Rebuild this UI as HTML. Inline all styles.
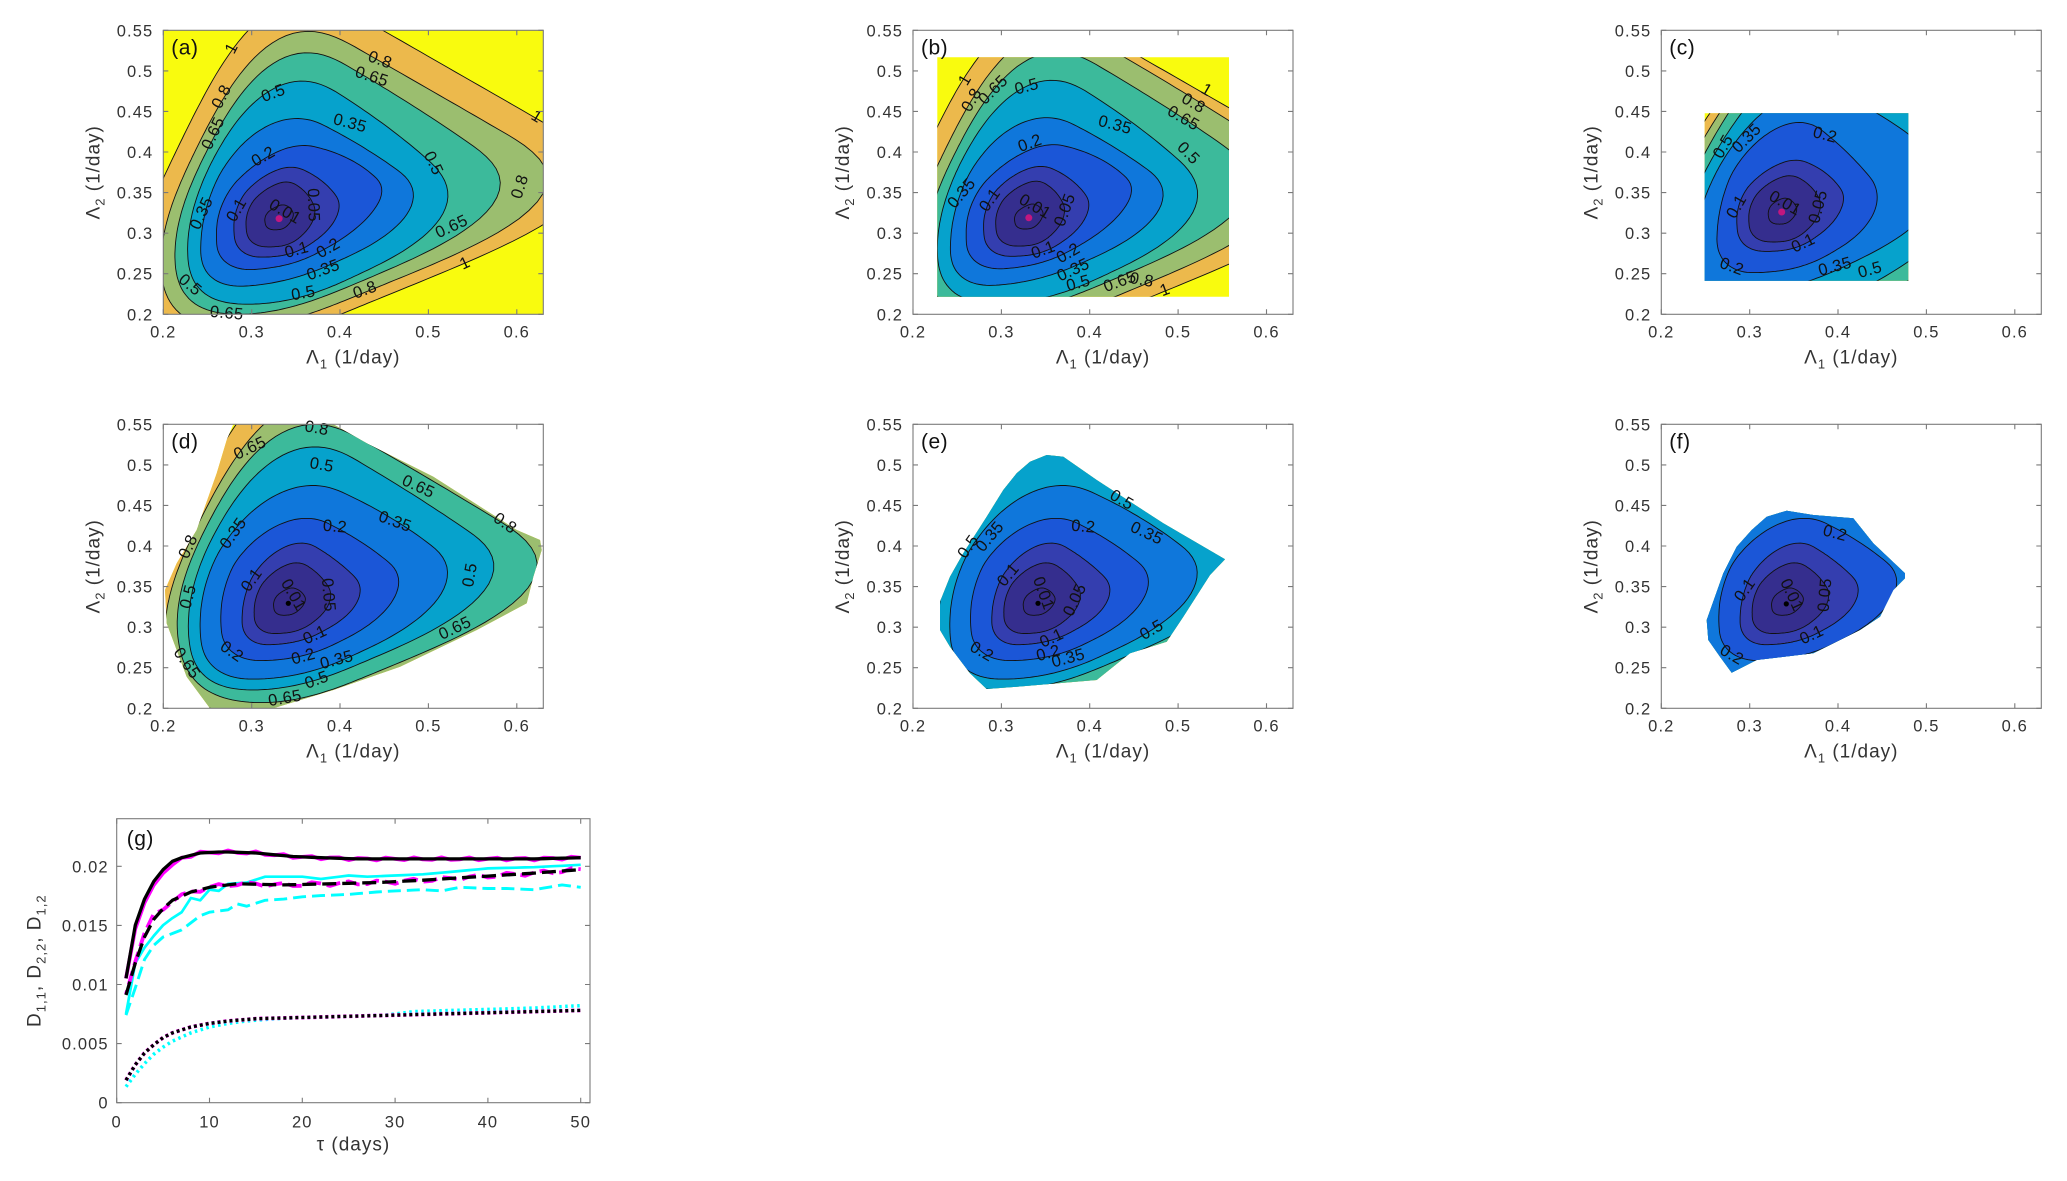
<!DOCTYPE html>
<html><head><meta charset="utf-8">
<style>
html,body{margin:0;padding:0;background:#fff;}
svg{display:block}
text{font-family:"Liberation Sans",Arial,sans-serif;}
.tk{font-size:16.5px;fill:#333;letter-spacing:1.1px;text-anchor:end}
.tx{font-size:16.5px;fill:#333;letter-spacing:1.1px;text-anchor:middle}
.al{font-size:19px;fill:#333;letter-spacing:1px;text-anchor:middle}
.pl{font-size:21px;fill:#111;letter-spacing:0.5px}
.cl{font-size:16.5px;fill:#111;text-anchor:middle;dominant-baseline:central;letter-spacing:0.4px}
</style></head><body>
<svg width="2067" height="1181" viewBox="0 0 2067 1181" xmlns="http://www.w3.org/2000/svg">
<defs>
<clipPath id="clA"><rect x="0" y="0" width="380" height="284"/></clipPath>
<clipPath id="clB"><rect x="24.3" y="27" width="291.7" height="239.4"/></clipPath>
<clipPath id="clC"><rect x="43.4" y="83" width="203.6" height="167.4"/></clipPath>
<clipPath id="clD"><polygon points="70,0 170,0 203.4,19 270,52.4 353.4,105.7 376.7,115.7 378.4,125.7 370,152.4 363.4,179 313.4,205.7 236.7,242.4 170,265.7 110,284 46.7,284 23.4,252.4 3.4,199 1.7,165.7 13.4,139 33.4,105.7 53.4,49 63.4,15.7"/></clipPath>
<clipPath id="clE"><polygon points="117,37.4 133.7,30.7 150.3,32.4 183.7,55.7 250.3,99 312,135 297,150.7 270.3,192.4 253.7,217.4 217,229 183.7,255.7 103.7,262.4 73.7,264.7 57,249 37,222.4 27,205.7 27,177.4 37,152.4 50.3,129 73.7,92.4 90.3,65.7 103.7,49"/></clipPath>
<clipPath id="clF"><polygon points="90.4,105.7 105.4,92.4 125.4,86.4 152,90.7 192,94 212,119 243.7,149 243.7,154 232,165.7 218.7,192.4 198.7,205.7 152,229 95.4,235.7 70.4,248.4 58.7,232.4 47,215.7 45.4,195.7 62,149 75.4,122.4"/></clipPath>
<clipPath id="clG"><rect x="0" y="0" width="473.3" height="284"/></clipPath>
</defs>

<!-- Panel a -->
<g transform="translate(163.3,30.3)">
<g id="ca"></g>
<circle cx="115.8" cy="188.3" r="3.5" fill="#c2177f"/>
<text class="cl" transform="translate(68.4,18) rotate(-63)">1</text>
<text class="cl" transform="translate(58.4,66.4) rotate(-63)">0.8</text>
<text class="cl" transform="translate(50,103) rotate(-65)">0.65</text>
<text class="cl" transform="translate(216.7,29.7) rotate(20)">0.8</text>
<text class="cl" transform="translate(208.4,46.4) rotate(18)">0.65</text>
<text class="cl" transform="translate(110,63) rotate(-20)">0.5</text>
<text class="cl" transform="translate(373.4,86.4) rotate(31)">1</text>
<text class="cl" transform="translate(186.7,93) rotate(15)">0.35</text>
<text class="cl" transform="translate(270,133) rotate(65)">0.5</text>
<text class="cl" transform="translate(356.7,156.4) rotate(-72)">0.8</text>
<text class="cl" transform="translate(100,126.4) rotate(-30)">0.2</text>
<text class="cl" transform="translate(38.4,183) rotate(-65)">0.35</text>
<text class="cl" transform="translate(73.4,179.7) rotate(-60)">0.1</text>
<text class="cl" transform="translate(150,174.7) rotate(88)">0.05</text>
<text class="cl" transform="translate(121.7,181.4) rotate(30)">0.01</text>
<text class="cl" transform="translate(288.4,196.4) rotate(-25)">0.65</text>
<text class="cl" transform="translate(301.7,233) rotate(-25)">1</text>
<text class="cl" transform="translate(133.4,219.7) rotate(-15)">0.1</text>
<text class="cl" transform="translate(165,218) rotate(-30)">0.2</text>
<text class="cl" transform="translate(160,239.7) rotate(-20)">0.35</text>
<text class="cl" transform="translate(26.7,254.7) rotate(40)">0.5</text>
<text class="cl" transform="translate(140,263) rotate(-10)">0.5</text>
<text class="cl" transform="translate(201.7,259.7) rotate(-20)">0.8</text>
<text class="cl" transform="translate(63.4,283) rotate(5)">0.65</text>
<text class="pl" x="8" y="24">(a)</text>
<g id="fa"></g>
<g class="tk"><text x="-10" y="6">0.55</text><text x="-10" y="46.6">0.5</text><text x="-10" y="87.1">0.45</text><text x="-10" y="127.7">0.4</text><text x="-10" y="168.3">0.35</text><text x="-10" y="208.9">0.3</text><text x="-10" y="249.4">0.25</text><text x="-10" y="290">0.2</text></g>
<g class="tx"><text x="0" y="307">0.2</text><text x="88.4" y="307">0.3</text><text x="176.7" y="307">0.4</text><text x="265.1" y="307">0.5</text><text x="353.5" y="307">0.6</text></g>
<text class="al" x="190" y="333">Λ<tspan dy="5" font-size="13">1</tspan><tspan dy="-5"> (1/day)</tspan></text>
<text class="al" transform="translate(-64,142) rotate(-90)">Λ<tspan dy="5" font-size="13">2</tspan><tspan dy="-5"> (1/day)</tspan></text>
</g>

<!-- Panel b -->
<g transform="translate(913,30.3)">
<g id="cb"></g>
<circle cx="115.8" cy="187.5" r="3.5" fill="#c2177f"/>
<text class="cl" transform="translate(52,49.7) rotate(-60)">1</text>
<text class="cl" transform="translate(58.7,69.7) rotate(-60)">0.8</text>
<text class="cl" transform="translate(80.3,59.7) rotate(-45)">0.65</text>
<text class="cl" transform="translate(113.7,56.4) rotate(-15)">0.5</text>
<text class="cl" transform="translate(293.7,59.7) rotate(30)">1</text>
<text class="cl" transform="translate(280.3,73) rotate(30)">0.8</text>
<text class="cl" transform="translate(270.3,88) rotate(30)">0.65</text>
<text class="cl" transform="translate(202,94.7) rotate(15)">0.35</text>
<text class="cl" transform="translate(275.3,123) rotate(45)">0.5</text>
<text class="cl" transform="translate(117,113) rotate(-20)">0.2</text>
<text class="cl" transform="translate(48.7,163) rotate(-50)">0.35</text>
<text class="cl" transform="translate(77,169.7) rotate(-55)">0.1</text>
<text class="cl" transform="translate(122,176.4) rotate(30)">0.01</text>
<text class="cl" transform="translate(152,179.7) rotate(-70)">0.05</text>
<text class="cl" transform="translate(130.3,219.7) rotate(-20)">0.1</text>
<text class="cl" transform="translate(155.3,223) rotate(-30)">0.2</text>
<text class="cl" transform="translate(160.3,239.7) rotate(-25)">0.35</text>
<text class="cl" transform="translate(165.3,253) rotate(-15)">0.5</text>
<text class="cl" transform="translate(207,251.4) rotate(-20)">0.65</text>
<text class="cl" transform="translate(228.7,249.7) rotate(10)">0.8</text>
<text class="cl" transform="translate(252,259.7) rotate(-20)">1</text>
<text class="pl" x="8" y="24">(b)</text>
<g id="fb"></g>
<g class="tk"><text x="-10" y="6">0.55</text><text x="-10" y="46.6">0.5</text><text x="-10" y="87.1">0.45</text><text x="-10" y="127.7">0.4</text><text x="-10" y="168.3">0.35</text><text x="-10" y="208.9">0.3</text><text x="-10" y="249.4">0.25</text><text x="-10" y="290">0.2</text></g>
<g class="tx"><text x="0" y="307">0.2</text><text x="88.4" y="307">0.3</text><text x="176.7" y="307">0.4</text><text x="265.1" y="307">0.5</text><text x="353.5" y="307">0.6</text></g>
<text class="al" x="190" y="333">Λ<tspan dy="5" font-size="13">1</tspan><tspan dy="-5"> (1/day)</tspan></text>
<text class="al" transform="translate(-64,142) rotate(-90)">Λ<tspan dy="5" font-size="13">2</tspan><tspan dy="-5"> (1/day)</tspan></text>
</g>

<!-- Panel c -->
<g transform="translate(1661.3,30.3)">
<g id="cc"></g>
<circle cx="120.4" cy="181.7" r="3.5" fill="#c2177f"/>
<text class="cl" transform="translate(62,116.4) rotate(-60)">0.5</text>
<text class="cl" transform="translate(85.4,108) rotate(-45)">0.35</text>
<text class="cl" transform="translate(163.7,104.7) rotate(15)">0.2</text>
<text class="cl" transform="translate(75.4,176.4) rotate(-60)">0.1</text>
<text class="cl" transform="translate(123.7,173) rotate(30)">0.01</text>
<text class="cl" transform="translate(157,176.4) rotate(-75)">0.05</text>
<text class="cl" transform="translate(142,213) rotate(-25)">0.1</text>
<text class="cl" transform="translate(70.4,236.4) rotate(20)">0.2</text>
<text class="cl" transform="translate(173.7,236.4) rotate(-15)">0.35</text>
<text class="cl" transform="translate(208.7,239.7) rotate(-15)">0.5</text>
<text class="pl" x="8" y="24">(c)</text>
<g id="fc"></g>
<g class="tk"><text x="-10" y="6">0.55</text><text x="-10" y="46.6">0.5</text><text x="-10" y="87.1">0.45</text><text x="-10" y="127.7">0.4</text><text x="-10" y="168.3">0.35</text><text x="-10" y="208.9">0.3</text><text x="-10" y="249.4">0.25</text><text x="-10" y="290">0.2</text></g>
<g class="tx"><text x="0" y="307">0.2</text><text x="88.4" y="307">0.3</text><text x="176.7" y="307">0.4</text><text x="265.1" y="307">0.5</text><text x="353.5" y="307">0.6</text></g>
<text class="al" x="190" y="333">Λ<tspan dy="5" font-size="13">1</tspan><tspan dy="-5"> (1/day)</tspan></text>
<text class="al" transform="translate(-64,142) rotate(-90)">Λ<tspan dy="5" font-size="13">2</tspan><tspan dy="-5"> (1/day)</tspan></text>
</g>

<!-- Panel d -->
<g transform="translate(163.3,424.3)">
<g id="cd"></g>
<circle cx="125" cy="179" r="2.6" fill="#000"/>
<text class="cl" transform="translate(153.4,4) rotate(10)">0.8</text>
<text class="cl" transform="translate(86.7,24) rotate(-25)">0.65</text>
<text class="cl" transform="translate(158.4,40.7) rotate(10)">0.5</text>
<text class="cl" transform="translate(255,62.4) rotate(25)">0.65</text>
<text class="cl" transform="translate(341.7,99) rotate(35)">0.8</text>
<text class="cl" transform="translate(70,109) rotate(-55)">0.35</text>
<text class="cl" transform="translate(171.7,102.4) rotate(5)">0.2</text>
<text class="cl" transform="translate(231.7,97.4) rotate(20)">0.35</text>
<text class="cl" transform="translate(25,122.4) rotate(-65)">0.8</text>
<text class="cl" transform="translate(306.7,150.7) rotate(-80)">0.5</text>
<text class="cl" transform="translate(88.4,155.7) rotate(-55)">0.1</text>
<text class="cl" transform="translate(165,170.7) rotate(85)">0.05</text>
<text class="cl" transform="translate(130,170.7) rotate(60)">0.01</text>
<text class="cl" transform="translate(25,172.4) rotate(-75)">0.5</text>
<text class="cl" transform="translate(291.7,204) rotate(-25)">0.65</text>
<text class="cl" transform="translate(151.7,210.7) rotate(-25)">0.1</text>
<text class="cl" transform="translate(68.4,227.4) rotate(35)">0.2</text>
<text class="cl" transform="translate(140,232.4) rotate(-15)">0.2</text>
<text class="cl" transform="translate(173.4,235.7) rotate(-15)">0.35</text>
<text class="cl" transform="translate(23.4,239) rotate(55)">0.65</text>
<text class="cl" transform="translate(153.4,255.7) rotate(-20)">0.5</text>
<text class="cl" transform="translate(121.7,274) rotate(-10)">0.65</text>
<text class="pl" x="8" y="24">(d)</text>
<g id="fd"></g>
<g class="tk"><text x="-10" y="6">0.55</text><text x="-10" y="46.6">0.5</text><text x="-10" y="87.1">0.45</text><text x="-10" y="127.7">0.4</text><text x="-10" y="168.3">0.35</text><text x="-10" y="208.9">0.3</text><text x="-10" y="249.4">0.25</text><text x="-10" y="290">0.2</text></g>
<g class="tx"><text x="0" y="307">0.2</text><text x="88.4" y="307">0.3</text><text x="176.7" y="307">0.4</text><text x="265.1" y="307">0.5</text><text x="353.5" y="307">0.6</text></g>
<text class="al" x="190" y="333">Λ<tspan dy="5" font-size="13">1</tspan><tspan dy="-5"> (1/day)</tspan></text>
<text class="al" transform="translate(-64,142) rotate(-90)">Λ<tspan dy="5" font-size="13">2</tspan><tspan dy="-5"> (1/day)</tspan></text>
</g>

<!-- Panel e -->
<g transform="translate(913,424.3)">
<g id="ce"></g>
<circle cx="125" cy="179" r="2.6" fill="#000"/>
<text class="cl" transform="translate(208.7,75.7) rotate(30)">0.5</text>
<text class="cl" transform="translate(233.7,109) rotate(25)">0.35</text>
<text class="cl" transform="translate(170.3,102.4) rotate(5)">0.2</text>
<text class="cl" transform="translate(55.3,122.4) rotate(-55)">0.5</text>
<text class="cl" transform="translate(77,112.4) rotate(-50)">0.35</text>
<text class="cl" transform="translate(95.3,150.7) rotate(-50)">0.1</text>
<text class="cl" transform="translate(130.3,169) rotate(70)">0.01</text>
<text class="cl" transform="translate(162,175.7) rotate(-65)">0.05</text>
<text class="cl" transform="translate(238.7,205.7) rotate(-30)">0.5</text>
<text class="cl" transform="translate(138.7,214) rotate(-25)">0.1</text>
<text class="cl" transform="translate(135.3,229) rotate(-15)">0.2</text>
<text class="cl" transform="translate(155.3,234) rotate(-15)">0.35</text>
<text class="cl" transform="translate(68.7,227.4) rotate(30)">0.2</text>
<text class="pl" x="8" y="24">(e)</text>
<g id="fe"></g>
<g class="tk"><text x="-10" y="6">0.55</text><text x="-10" y="46.6">0.5</text><text x="-10" y="87.1">0.45</text><text x="-10" y="127.7">0.4</text><text x="-10" y="168.3">0.35</text><text x="-10" y="208.9">0.3</text><text x="-10" y="249.4">0.25</text><text x="-10" y="290">0.2</text></g>
<g class="tx"><text x="0" y="307">0.2</text><text x="88.4" y="307">0.3</text><text x="176.7" y="307">0.4</text><text x="265.1" y="307">0.5</text><text x="353.5" y="307">0.6</text></g>
<text class="al" x="190" y="333">Λ<tspan dy="5" font-size="13">1</tspan><tspan dy="-5"> (1/day)</tspan></text>
<text class="al" transform="translate(-64,142) rotate(-90)">Λ<tspan dy="5" font-size="13">2</tspan><tspan dy="-5"> (1/day)</tspan></text>
</g>

<!-- Panel f -->
<g transform="translate(1661.3,424.3)">
<g id="cf"></g>
<circle cx="125" cy="179.6" r="2.6" fill="#000"/>
<text class="cl" transform="translate(173.7,109) rotate(15)">0.2</text>
<text class="cl" transform="translate(83.7,165.7) rotate(-55)">0.1</text>
<text class="cl" transform="translate(130.4,170.7) rotate(65)">0.01</text>
<text class="cl" transform="translate(163.7,170.7) rotate(-85)">0.05</text>
<text class="cl" transform="translate(150.4,210.7) rotate(-25)">0.1</text>
<text class="cl" transform="translate(70.4,230.7) rotate(30)">0.2</text>
<text class="pl" x="8" y="24">(f)</text>
<g id="ff"></g>
<g class="tk"><text x="-10" y="6">0.55</text><text x="-10" y="46.6">0.5</text><text x="-10" y="87.1">0.45</text><text x="-10" y="127.7">0.4</text><text x="-10" y="168.3">0.35</text><text x="-10" y="208.9">0.3</text><text x="-10" y="249.4">0.25</text><text x="-10" y="290">0.2</text></g>
<g class="tx"><text x="0" y="307">0.2</text><text x="88.4" y="307">0.3</text><text x="176.7" y="307">0.4</text><text x="265.1" y="307">0.5</text><text x="353.5" y="307">0.6</text></g>
<text class="al" x="190" y="333">Λ<tspan dy="5" font-size="13">1</tspan><tspan dy="-5"> (1/day)</tspan></text>
<text class="al" transform="translate(-64,142) rotate(-90)">Λ<tspan dy="5" font-size="13">2</tspan><tspan dy="-5"> (1/day)</tspan></text>
</g>

<!-- Panel g -->
<g transform="translate(116.7,818.7)">
<g id="cg" clip-path="url(#clG)"></g>
<text class="pl" x="10" y="27">(g)</text>
<g id="fg"></g>
<g class="tk"><text x="-8" y="290">0</text><text x="-8" y="230.9">0.005</text><text x="-8" y="171.8">0.01</text><text x="-8" y="112.7">0.015</text><text x="-8" y="53.6">0.02</text></g>
<g class="tx"><text x="0" y="309">0</text><text x="92.8" y="309">10</text><text x="185.6" y="309">20</text><text x="278.4" y="309">30</text><text x="371.2" y="309">40</text><text x="464" y="309">50</text></g>
<text class="al" x="236.7" y="332">τ (days)</text>
<text class="al" transform="translate(-76,142) rotate(-90)">D<tspan dy="5" font-size="13">1,1</tspan><tspan dy="-5">, D</tspan><tspan dy="5" font-size="13">2,2</tspan><tspan dy="-5">, D</tspan><tspan dy="5" font-size="13">1,2</tspan></text>
</g>
</svg>

<script>
(function(){
var DIR=[156,100,58,0,294,225].map(function(d){return d*Math.PI/180;});
var COL=['#352a87','#352e8e','#343eaf','#1b56d7','#0f77db','#06a2cc','#3cba9b','#9bbe6f','#ecb94c'];
var BG='#f9fb0e';
var PW=[2,2,2,2,2.2,2.5,2.8,3,3.3];
function rM(th,t,p){var s=0;for(var i=0;i<6;i++){var c=Math.cos(th-DIR[i]);if(c>0)s+=Math.pow(c/t[i],p);}return Math.pow(s,-1/p);}
function fit(r,p){var t=r.map(function(v){return v*1.15;});for(var it=0;it<100;it++){for(var j=0;j<6;j++){var m=rM(DIR[j],t,p);t[j]*=r[j]/m;if(t[j]>r[j]*6)t[j]=r[j]*6;}}return t;}
function path(cx,cy,t,p){var d='';for(var k=0;k<360;k+=2){var th=k*Math.PI/180;var r=rM(th,t,p);var x=(cx+r*Math.cos(th)-0.2)*883.7,y=284-(cy+r*Math.sin(th)-0.2)*811.4;d+=(k?'L':'M')+x.toFixed(1)+' '+y.toFixed(1);}return d+'Z';}
function contour(id,cx,cy,tab,clip){
  var g=document.getElementById(id);
  var s='<g clip-path="url(#'+clip+')"><rect x="-10" y="-10" width="400" height="304" fill="'+BG+'"/>';
  var P=[];for(var k=8;k>=0;k--){var t=fit(tab[k],PW[k]);P[k]=path(cx,cy,t,PW[k]);}
  for(k=8;k>=0;k--)s+='<path d="'+P[k]+'" fill="'+COL[k]+'"/>';
  for(k=8;k>=0;k--)s+='<path d="'+P[k]+'" fill="none" stroke="#111" stroke-width="0.9"/>';
  s+='</g>';g.innerHTML=s;
}
function frame(id,W,H,xs,ys){var g=document.getElementById(id);var c='#7a7a7a';var s='<rect x="0" y="0" width="'+W+'" height="'+H+'" fill="none" stroke="'+c+'" stroke-width="1.1"/>';
  xs.forEach(function(x){s+='<path d="M'+x+' '+H+'v-5M'+x+' 0v5" stroke="'+c+'" stroke-width="1.1"/>';});
  ys.forEach(function(y){s+='<path d="M0 '+y+'h5M'+W+' '+y+'h-5" stroke="'+c+'" stroke-width="1.1"/>';});
  g.innerHTML=s;}
var TA=[[.015,.015,.018,.015,.013,.017],[.036,.041,.045,.039,.033,.042],[.049,.057,.066,.064,.045,.058],[.066,.077,.100,.099,.057,.080],[.083,.112,.125,.141,.075,.105],[.097,.150,.165,.182,.100,.125],[.108,.200,.200,.227,.108,.142],[.120,.225,.225,.273,.122,.162],[.140,.243,.259,.320,.136,.220]];
var TB=JSON.parse(JSON.stringify(TA));TB[8][2]=.235;TB[8][4]=.145;TB[7][4]=.128;
var TC=[[.015,.016,.018,.016,.014,.017],[.036,.041,.046,.042,.035,.043],[.049,.057,.068,.065,.046,.058],[.070,.100,.107,.104,.070,.089],[.088,.125,.160,.165,.090,.130],[.100,.150,.210,.200,.125,.160],[.110,.170,.240,.240,.140,.180],[.120,.180,.270,.280,.150,.200],[.130,.190,.300,.320,.160,.220]];
var TD=[[.016,.017,.020,.018,.014,.018],[.037,.045,.050,.046,.035,.045],[.050,.066,.075,.077,.048,.062],[.075,.095,.108,.116,.067,.087],[.097,.130,.150,.165,.088,.115],[.110,.170,.190,.208,.100,.130],[.122,.195,.215,.254,.117,.142],[.132,.220,.245,.290,.130,.160],[.150,.250,.280,.330,.145,.190]];
contour('ca',0.331,0.318,TA,'clA');
contour('cb',0.331,0.319,TB,'clB');
contour('cc',0.3366,0.3256,TC,'clC');
contour('cd',0.3415,0.3294,TD,'clD');
contour('ce',0.3415,0.3294,TD,'clE');
contour('cf',0.3415,0.3294,TD,'clF');
var XS=[0,88.4,176.7,265.1,353.5],YS=[0,40.6,81.1,121.7,162.3,202.9,243.4,284];
['fa','fb','fc','fd','fe','ff'].forEach(function(id){frame(id,380,284,XS,YS);});
frame('fg',473.3,284,[0,92.8,185.6,278.4,371.2,464],[284,224.9,165.8,106.7,47.6]);

var SX=9.28,SY=11835;
function ser(p){var o=[];for(var t=1;t<=50;t++){var i=0;while(i<p.length-2&&p[i+1][0]<t)i++;var a=p[i],b=p[i+1];var f=(t-a[0])/(b[0]-a[0]);o.push([t,a[1]+(b[1]-a[1])*f]);}return o;}
function pl(arr,st,w,dash,off){return '<polyline fill="none" stroke="'+st+'" stroke-width="'+w+'" '+(dash?'stroke-dasharray="'+dash+'" stroke-dashoffset="'+(off||0)+'" ':'')+'stroke-linejoin="round" points="'+arr.map(function(q){return (q[0]*SX).toFixed(1)+','+(284-q[1]*SY).toFixed(1);}).join(' ')+'"/>';}
var bs=ser([[1,.0105],[2,.0150],[3,.0172],[4,.0187],[5,.0197],[6,.0204],[7,.0207],[9,.0211],[11.5,.0212],[15,.0211],[19,.0208],[22,.0207],[26,.0206],[33,.0206],[40,.0206],[45,.0206],[50,.0207]]);
var bd=ser([[1,.0091],[2,.0118],[3,.0140],[4,.0155],[5,.0164],[6,.0171],[8,.0178],[10,.0182],[13,.0185],[18,.0184],[23,.0185],[28,.0186],[33,.0188],[37,.0190],[41,.0192],[45,.0194],[50,.0197]]);
var cs=ser([[1,.0075],[2,.0118],[3,.0131],[4,.0141],[5,.0150],[6,.0156],[7,.0161],[8,.0173],[9,.0171],[10,.0180],[11,.0179],[12,.0185],[14,.0186],[16,.0191],[18,.0191],[20,.0191],[22,.0189],[25,.0192],[27,.0191],[30,.0192],[33,.0193],[36,.0195],[40,.0198],[45,.0199],[50,.0201]]);
var cd=ser([[1,.0074],[2,.0097],[3,.0121],[4,.0133],[5,.0140],[6,.0143],[7,.0146],[8,.0152],[9,.0158],[10,.0161],[12,.0163],[13,.0168],[14,.0166],[16,.0171],[18,.0172],[20,.0174],[22,.0175],[25,.0176],[28,.0178],[30,.0179],[33,.0180],[35,.0179],[37,.0182],[40,.0181],[42,.0181],[45,.0180],[48,.0184],[50,.0182]]);
var bt=ser([[1,.0019],[2,.0032],[3,.0042],[4,.0049],[5,.0055],[6,.0059],[8,.0064],[10,.0067],[12,.0069],[15,.0071],[20,.0072],[25,.0073],[30,.0074],[35,.0075],[40,.0076],[45,.0077],[50,.0078]]);
var ct=ser([[1,.00135],[2,.0024],[3,.0033],[4,.0041],[5,.0047],[6,.0052],[8,.0059],[10,.0064],[12,.0067],[14,.0069],[17,.0071],[20,.0072],[25,.0073],[29,.0074],[32,.0077],[36,.0078],[41,.0079],[45,.0080],[50,.0082]]);
var ms=bs.map(function(q){var t=q[0];return [t,q[1]+((t>=2&&t<=6)?-0.0003:0)+(t>=8?0.00013*Math.sin(t*2.2):0)];});
var md=bd.map(function(q){var t=q[0];return [t,q[1]+((t>=2&&t<=4)?0.0003:0)+0.00018*Math.sin(t*1.8+1)];});
var s='';
s+=pl(cs,'#00ffff',2.7);
s+=pl(cd,'#00ffff',2.9,'13 6');
s+=pl(ct,'#00ffff',3.5,'2.5 3.5');
s+=pl(ms,'#ff00ff',3.8);
s+=pl(md,'#ff00ff',3.8,'14 6',10);
s+=pl(bt,'#ff00ff',3.9,'3 3');
s+=pl(bs,'#000',3.3);
s+=pl(bd,'#000',3.3,'14 6');
s+=pl(bt,'#000',3.3,'3 3');
document.getElementById('cg').innerHTML=s;
})();
</script>
</body></html>
